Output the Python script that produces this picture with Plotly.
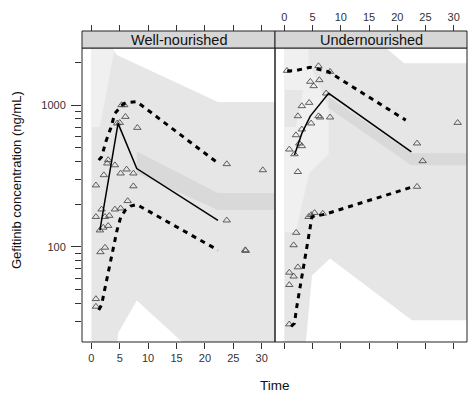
import plotly.graph_objects as go

# ---------------- data ----------------
panels = ["Well-nourished", "Undernourished"]

# observed points (time, concentration)
wn_obs_t = [5.33, 5.8, 6.0, 4.55, 5.0, 8.1, 2.96, 2.8, 4.15, 2.2, 0.8, 5.15, 6.2, 7.4, 7.4,
            1.8, 0.8, 6.4, 5.15, 4.15, 3.15, 2.4, 1.5, 2.1, 2.96, 1.6, 2.4, 0.8, 0.8,
            23.85, 30.2, 23.85, 27.1, 27.2]
wn_obs_c = [1000, 1000, 827, 743, 750, 692, 410, 388, 377, 321, 272, 330, 352, 330, 268,
            184, 163, 211, 187, 184, 166, 163, 131, 137, 141, 92, 99, 43, 38,
            384, 348, 154, 95, 94]
un_obs_t = [0.47, 6.05, 8.1, 4.6, 6.2, 5.2, 7.4, 3.1, 4.4, 2.4, 6.05, 6.35, 8.1, 4.75, 3.1,
            2.06, 2.65, 3.1, 0.88, 1.8, 2.4, 23.5, 24.5, 30.7, 2.1, 1.65, 4.3, 4.76, 5.35,
            6.8, 2.4, 0.88, 1.65, 0.88, 0.88, 23.5]
un_obs_c = [1746, 1884, 1718, 1462, 1501, 1361, 1209, 984, 1038, 836, 836, 819, 819, 743, 674,
            614, 537, 514, 487, 451, 338, 537, 403, 750, 126, 103, 163, 168, 174,
            172, 72, 66, 62, 54, 28.5, 266]

# observed percentile lines
wn_p95_t = [1.3, 1.8, 2.55, 3.4, 4.15, 4.9, 5.6, 6.2, 8.0, 22.3]
wn_p95_c = [409, 431, 551, 686, 874, 948, 1017, 1038, 1055, 390]
wn_p50_t = [1.5, 4.7, 8.0, 22.3]
wn_p50_c = [131, 743, 357, 154]
wn_p05_t = [1.3, 1.8, 2.3, 2.8, 3.3, 3.85, 4.5, 5.15, 6.0, 6.9, 8.0, 22.3]
wn_p05_c = [36, 39, 49, 61, 78, 100, 130, 161, 182, 194, 199, 95]

un_p95_t = [0.5, 1.9, 4.6, 6.9, 7.8, 21.5]
un_p95_c = [1738, 1746, 1845, 1766, 1719, 783]
un_p50_t = [1.8, 3.1, 4.6, 7.85, 22.5]
un_p50_c = [444, 631, 836, 1210, 468]
un_p05_t = [1.2, 1.8, 2.2, 2.6, 3.1, 3.55, 4.0, 4.4, 4.9, 7.2, 22.3]
un_p05_c = [27.5, 29, 37.8, 46.9, 61.4, 77, 97.5, 125.7, 163, 170, 262]

# simulated prediction areas: outer envelope (upper / lower edge)
wn_env_hi_t = [0, 1.5, 4.5, 22.3, 33]
wn_env_hi = [4000, 3400, 2250, 1050, 1050]
wn_env_lo_t = [0, 1.5, 4.7, 8.0, 22.3, 33]
wn_env_lo = [0.1, 0.1, 24.6, 42, 12.6, 12.6]
# region covered by only one interval (lighter)
wn_light_t = [0, 1.5, 4.0]
wn_light_lo = [700, 700, 2400]
wn_light_hi = [4000, 3400, 2400]
# confidence interval of the simulated median (darker)
wn_med_t = [8.0, 22.3, 33]
wn_med_lo = [330, 182, 182]
wn_med_hi = [470, 240, 240]

un_env_hi_t = [0, 7.85, 21.2, 33]
un_env_hi = [6000, 5600, 1967, 1967]
un_env_lo_t = [0, 1.8, 4.9, 8.1, 22.6, 33]
un_env_lo = [2.8, 2.8, 63, 82.8, 30.4, 30.4]
un_light1_t = [0, 4.3]
un_light1_lo = [1275, 1275]
un_light1_hi = [6000, 6000]
un_light2_t = [0, 2.0, 4.4, 7.85]
un_light2_lo = [127, 127, 330, 450]
un_light2_hi = [700, 700, 2000, 950]
un_med_t = [7.85, 22.5, 33]
un_med_lo = [953, 376, 376]
un_med_hi = [1145, 458, 458]

x_ticks = [0, 5, 10, 15, 20, 25, 30]
y_major = [100, 1000]
y_minor = [30, 40, 50, 60, 70, 80, 90, 200, 300, 400, 500, 600, 700, 800, 900, 2000]

MAIN, LIGHT, DARK = "#e6e6e6", "#f0f0f0", "#d9d9d9"

# ---------------- figure ----------------
fig = go.Figure()


def area(t_hi, hi, t_lo, lo, xa, color):
    fig.add_trace(go.Scatter(x=list(t_hi) + list(t_lo)[::-1], y=list(hi) + list(lo)[::-1],
                             mode="lines", fill="toself", fillcolor=color,
                             line=dict(width=0), hoverinfo="skip", showlegend=False,
                             xaxis=xa, yaxis="y"))


def line(t, c, xa, dash, w):
    fig.add_trace(go.Scatter(x=t, y=c, mode="lines", line=dict(color="black", width=w, dash=dash),
                             hoverinfo="skip", showlegend=False, xaxis=xa, yaxis="y"))


def pts(t, c, xa):
    fig.add_trace(go.Scatter(x=t, y=c, mode="markers",
                             marker=dict(symbol="triangle-up-open", size=6.5, color="#4d4d4d",
                                         line=dict(width=0.9, color="#4d4d4d")),
                             hoverinfo="skip", showlegend=False, xaxis=xa, yaxis="y"))


# Well-nourished
area(wn_env_hi_t, wn_env_hi, wn_env_lo_t, wn_env_lo, "x", MAIN)
area(wn_light_t, wn_light_hi, wn_light_t, wn_light_lo, "x", LIGHT)
area(wn_med_t, wn_med_hi, wn_med_t, wn_med_lo, "x", DARK)
pts(wn_obs_t, wn_obs_c, "x")
line(wn_p95_t, wn_p95_c, "x", "5px,5px", 3)
line(wn_p50_t, wn_p50_c, "x", "solid", 1.5)
line(wn_p05_t, wn_p05_c, "x", "5px,5px", 3)

# Undernourished
area(un_env_hi_t, un_env_hi, un_env_lo_t, un_env_lo, "x2", MAIN)
area(un_light1_t, un_light1_hi, un_light1_t, un_light1_lo, "x2", LIGHT)
area(un_light2_t, un_light2_hi, un_light2_t, un_light2_lo, "x2", LIGHT)
area(un_med_t, un_med_hi, un_med_t, un_med_lo, "x2", DARK)
pts(un_obs_t, un_obs_c, "x2")
line(un_p95_t, un_p95_c, "x2", "5px,5px", 3)
line(un_p50_t, un_p50_c, "x2", "solid", 1.5)
line(un_p05_t, un_p05_c, "x2", "5px,5px", 3)

# dummy traces so the top overlay axes are drawn
for xa in ["x3", "x4"]:
    fig.add_trace(go.Scatter(x=[10], y=[100], mode="markers", marker=dict(opacity=0),
                             hoverinfo="skip", showlegend=False, xaxis=xa, yaxis="y"))

W, H = 470, 396
ML, MR, MT, MB = 82, 3, 31, 54
pw, ph = W - ML - MR, H - MT - MB
split = (275 - ML) / pw
ytop = (342 - 48) / ph
XR = [-1.65, 32.35]
YR = [1.33, 3.402]
FONT = "Liberation Sans, Arial, sans-serif"
tickfont = dict(family=FONT, size=11, color="#333333")

xcommon = dict(range=XR, tickvals=x_ticks, ticks="outside", ticklen=6, tickcolor="#333333",
               showgrid=False, zeroline=False, showline=False, tickfont=tickfont)
fig.update_layout(
    width=W, height=H,
    margin=dict(l=ML, r=MR, t=MT, b=MB),
    plot_bgcolor="white", paper_bgcolor="white",
    xaxis=dict(domain=[0, split], anchor="y", **xcommon),
    xaxis2=dict(domain=[split, 1], anchor="y2", showticklabels=False, **xcommon),
    xaxis3=dict(overlaying="x", side="top", anchor="free", position=1.0, showticklabels=False,
                **xcommon),
    xaxis4=dict(overlaying="x2", side="top", anchor="free", position=1.0, **xcommon),
    yaxis=dict(domain=[0, ytop], anchor="x", type="log", range=YR, tickvals=y_major,
               ticktext=["100", "1000"], ticks="outside", ticklen=10, tickcolor="#333333",
               minor=dict(tickmode="array", tickvals=y_minor, ticks="outside", ticklen=6,
                          tickcolor="#333333", showgrid=False),
               showgrid=False, zeroline=False, showline=False, tickfont=tickfont,
               ticklabelstandoff=3),
    yaxis2=dict(domain=[0, ytop], anchor="x2", matches="y", type="log", range=YR, side="right",
                tickvals=y_major, showticklabels=False, ticks="outside", ticklen=10,
                tickcolor="#333333",
                minor=dict(tickmode="array", tickvals=y_minor, ticks="outside", ticklen=6,
                           tickcolor="#333333", showgrid=False),
                showgrid=False, zeroline=False, showline=False),
)

# panel borders and strips
for xref, name in [("x domain", panels[0]), ("x2 domain", panels[1])]:
    fig.add_shape(type="rect", xref=xref, yref="y domain", x0=0, x1=1, y0=0, y1=1,
                  line=dict(color="#222222", width=1), fillcolor="rgba(0,0,0,0)", layer="above")
    fig.add_shape(type="rect", xref=xref, yref="paper", x0=0, x1=1, y0=ytop, y1=1,
                  line=dict(color="#222222", width=1), fillcolor="#d6d6d6", layer="above")
    fig.add_annotation(xref=xref, yref="paper", x=0.5, y=(ytop + 1) / 2, text=name,
                       showarrow=False, yanchor="middle",
                       font=dict(family=FONT, size=14.5, color="#111111"))

fig.add_annotation(xref="paper", yref="paper", x=split, y=-(385 - 342) / ph, yanchor="middle",
                   xanchor="center", text="Time", showarrow=False,
                   font=dict(family=FONT, size=13.5, color="#111111"))
fig.add_annotation(xref="paper", yref="paper", x=-(82 - 16) / pw, y=(342 - 180) / ph,
                   textangle=-90, xanchor="center", yanchor="middle",
                   text="Gefitinib concentration (ng/mL)", showarrow=False,
                   font=dict(family=FONT, size=13, color="#111111"))

fig.write_html("out.html")
